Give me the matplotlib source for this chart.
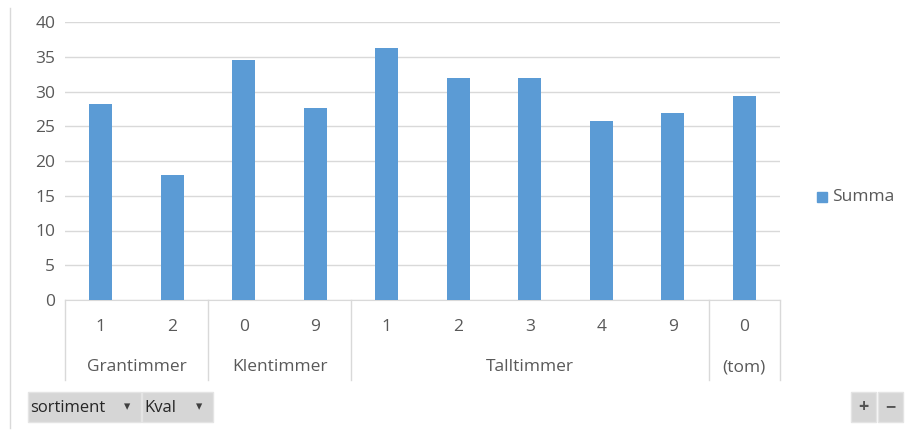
import matplotlib.pyplot as plt
from matplotlib.patches import Rectangle
from matplotlib.lines import Line2D

# data
groups = ["Grantimmer", "Klentimmer", "Talltimmer", "(tom)"]
kval = [["1", "2"], ["0", "9"], ["1", "2", "3", "4", "9"], ["0"]]
summa = [28.2, 18.0, 34.5, 27.6, 36.3, 31.9, 31.9, 25.7, 26.9, 29.3]
yticks = [0, 5, 10, 15, 20, 25, 30, 35, 40]

BAR = "#5b9bd5"
TXT = "#595959"
GRID = "#d9d9d9"
FS = 12.5
W, H = 910, 430

plt.rcParams["font.family"] = ["Open Sans", "DejaVu Sans"]

fig = plt.figure(figsize=(W / 100, H / 100), dpi=100)
fig.patch.set_facecolor("white")


def fx(px):
    return px / W


def fy(py):
    return 1 - py / H


ax = fig.add_axes([fx(65), fy(300), fx(780) - fx(65), fy(22) - fy(300)])
labels = [k for ks in kval for k in ks]
xs = list(range(len(labels)))
ax.bar(xs, summa, width=0.32, color=BAR, zorder=3)
ax.set_xlim(-0.5, len(labels) - 0.5)
ax.set_ylim(0, 40)
ax.set_yticks(yticks)
ax.set_yticklabels([str(t) for t in yticks], color=TXT, fontsize=FS)
ax.tick_params(axis="y", length=0, pad=7)
ax.set_xticks([])
ax.yaxis.grid(True, color=GRID, linewidth=1, zorder=0)
for s in ["top", "right", "left"]:
    ax.spines[s].set_visible(False)
ax.spines["bottom"].set_color(GRID)

# multi-level category axis
tr = ax.get_xaxis_transform()
y_low = -80 / 278
pos = -0.5
bounds = [pos]
for g, ks in zip(groups, kval):
    start = pos
    for i, k in enumerate(ks):
        ax.text(pos + 0.5, -27 / 278, k, transform=tr, ha="center", va="center",
                color=TXT, fontsize=FS)
        pos += 1
    ax.text((start + pos) / 2, -67 / 278, g, transform=tr, ha="center", va="center",
            color=TXT, fontsize=FS)
    bounds.append(pos)
for b in bounds:
    ax.plot([b, b], [0, y_low], transform=tr, color=GRID, lw=1, clip_on=False)

# legend
fig.patches.append(Rectangle((fx(817), fy(202)), fx(10), 10 / H, color=BAR,
                             transform=fig.transFigure))
fig.text(fx(832), fy(197), "Summa", color=TXT, fontsize=FS, va="center")

# chart area left border
fig.add_artist(Line2D([fx(10), fx(10)], [fy(8), fy(428)], color=GRID, lw=1))


# pivot field buttons
def button(x0, x1, label, arrow=True):
    fig.patches.append(Rectangle((fx(x0), fy(422)), fx(x1 - x0), 30 / H,
                                 facecolor="#d6d6d6", edgecolor="#e4e4e4",
                                 transform=fig.transFigure))
    if arrow:
        fig.text(fx(x0 + 2), fy(408), label, color="#262626", fontsize=12, va="center")
        fig.text(fx(x1 - 14), fy(407), "▾", color="#404040", fontsize=9,
                 va="center", ha="center")
    else:
        fig.text(fx((x0 + x1) / 2), fy(407), label, color="#555555", fontsize=13,
                 va="center", ha="center", fontweight="bold")


button(28, 141, "sortiment")
button(142, 213, "Kval")
button(851, 876, "+", arrow=False)
button(878, 903, "−", arrow=False)

fig.savefig("out.png", dpi=100)
